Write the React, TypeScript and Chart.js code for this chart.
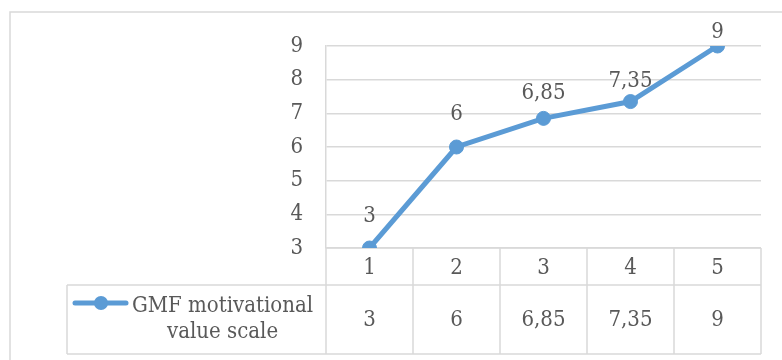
import React, { useEffect, useRef } from "react";
import { Chart, registerables } from "chart.js";

Chart.register(...registerables);

const categories = ["1", "2", "3", "4", "5"];
const values = [3, 6, 6.85, 7.35, 9];
const valueLabels = ["3", "6", "6,85", "7,35", "9"];
const seriesName = ["GMF motivational", "value scale"];
const yTicks = [3, 4, 5, 6, 7, 8, 9];

const labelLift = [32, 33, 25, 20, 14];

const FONT = "'DejaVu Serif Condensed', 'DejaVu Serif', serif";
const FSIZE = 22;
const TEXT = "#595959";
const GRID = "#d9d9d9";
const BLUE = "#5b9bd5";

const tablePlugin = {
  id: "tablePlugin",
  beforeDraw(chart: any) {
    const { ctx, width, height } = chart;
    ctx.save();
    ctx.fillStyle = "#ffffff";
    ctx.fillRect(0, 0, width, height);
    ctx.strokeStyle = GRID;
    ctx.lineWidth = 1.5;
    ctx.beginPath();
    ctx.moveTo(10, height);
    ctx.lineTo(10, 12);
    ctx.lineTo(width, 12);
    ctx.stroke();
    ctx.restore();
  },
  beforeDatasetsDraw(chart: any) {
    const { ctx, chartArea } = chart;
    const xs = chart.scales.x;
    const left = chartArea.left;
    const right = chartArea.right;
    const top = chartArea.bottom;
    const mid = top + 37;
    const bottom = top + 106;
    const legendLeft = 67;
    const n = categories.length;
    const colW = (right - left) / n;
    ctx.save();
    ctx.strokeStyle = GRID;
    ctx.lineWidth = 1.5;
    ctx.beginPath();
    ctx.moveTo(left, top);
    ctx.lineTo(right, top);
    ctx.moveTo(legendLeft, mid);
    ctx.lineTo(right, mid);
    ctx.moveTo(legendLeft, bottom);
    ctx.lineTo(right, bottom);
    ctx.moveTo(legendLeft, mid);
    ctx.lineTo(legendLeft, bottom);
    for (let i = 0; i <= n; i++) {
      const x = left + i * colW;
      ctx.moveTo(x, top);
      ctx.lineTo(x, bottom);
    }
    ctx.stroke();

    ctx.fillStyle = TEXT;
    ctx.font = `${FSIZE}px ${FONT}`;
    ctx.textAlign = "center";
    ctx.textBaseline = "middle";
    categories.forEach((c, i) => {
      const x = xs.getPixelForValue(i);
      ctx.fillText(c, x, (top + mid) / 2 + 2);
      ctx.fillText(valueLabels[i], x, (mid + bottom) / 2 + 1);
    });

    // legend key + series name
    const textX = 132;
    ctx.textAlign = "left";
    ctx.fillText(seriesName[0], textX, mid + 21);
    const w1 = ctx.measureText(seriesName[0]).width;
    ctx.textAlign = "center";
    ctx.fillText(seriesName[1], textX + w1 / 2, mid + 47);

    ctx.strokeStyle = BLUE;
    ctx.lineWidth = 5;
    ctx.lineCap = "round";
    ctx.beginPath();
    ctx.moveTo(75, mid + 18);
    ctx.lineTo(126, mid + 18);
    ctx.stroke();
    ctx.fillStyle = BLUE;
    ctx.beginPath();
    ctx.arc(101, mid + 18, 7, 0, Math.PI * 2);
    ctx.fill();
    ctx.restore();
  },
  afterDatasetsDraw(chart: any) {
    const { ctx } = chart;
    const meta = chart.getDatasetMeta(0);
    ctx.save();
    ctx.fillStyle = TEXT;
    ctx.font = `${FSIZE}px ${FONT}`;
    ctx.textAlign = "center";
    ctx.textBaseline = "middle";
    meta.data.forEach((pt: any, i: number) => {
      ctx.fillText(valueLabels[i], pt.x, pt.y - labelLift[i]);
    });
    ctx.restore();
  },
};

export default function App() {
  const ref = useRef<HTMLCanvasElement>(null);
  useEffect(() => {
    if (!ref.current) return;
    const chart = new Chart(ref.current, {
      type: "line",
      data: {
        labels: categories,
        datasets: [
          {
            label: seriesName.join(" "),
            data: values,
            borderColor: BLUE,
            backgroundColor: BLUE,
            borderWidth: 5,
            pointRadius: 7,
            pointBorderWidth: 1,
            pointBackgroundColor: BLUE,
            pointBorderColor: BLUE,
            tension: 0,
          },
        ],
      },
      options: {
        animation: false,
        responsive: false,
        layout: { padding: { left: 0, right: 21, top: 46, bottom: 112 } },
        plugins: {
          legend: { display: false },
          tooltip: { enabled: false },
        },
        scales: {
          x: {
            type: "category",
            offset: true,
            display: false,
          },
          y: {
            min: 3,
            max: 9,
            afterFit(scale: any) {
              scale.width = 326;
            },
            afterBuildTicks(scale: any) {
              scale.ticks = yTicks.map((v) => ({ value: v }));
            },
            ticks: {
              color: TEXT,
              font: { family: FONT, size: FSIZE },
              padding: 23,
            },
            grid: {
              color: GRID,
              lineWidth: 1.5,
              drawTicks: false,
            },
            border: { display: true, color: GRID, width: 1.5 },
          },
        },
      },
      plugins: [tablePlugin],
    } as any);
    return () => chart.destroy();
  }, []);
  return (
    <div style={{ position: "fixed", left: 0, top: 0, width: 782, height: 360 }}>
      <canvas ref={ref} width={782} height={360} style={{ width: 782, height: 360 }} />
    </div>
  );
}
